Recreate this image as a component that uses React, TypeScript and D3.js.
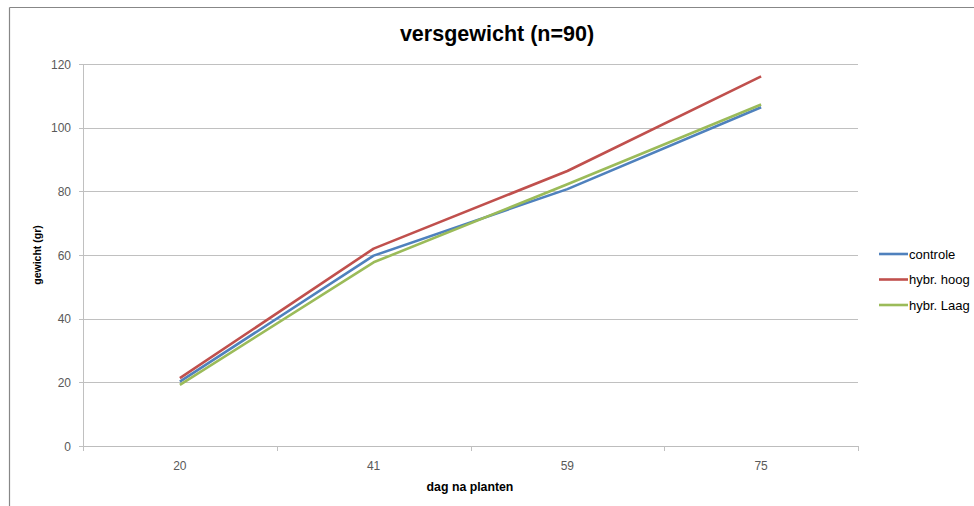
import React from "react";
import * as d3 from "d3";

const categories = ["20", "41", "59", "75"];
const seriesNames = ["controle", "hybr. hoog", "hybr. Laag"];
const controle = [20.2, 59.8, 80.7, 106.4];
const hybrHoog = [21.3, 62.0, 86.4, 116.1];
const hybrLaag = [19.2, 57.7, 82.2, 107.3];
const yTicks = [0, 20, 40, 60, 80, 100, 120];
const colors = ["#4F81BD", "#C0504D", "#9BBB59"];

const W = 974;
const H = 506;
const plot = { left: 83, right: 858, top: 64, bottom: 446 };
const FONT = "'Liberation Sans', Arial, sans-serif";

export default function App() {
  const x = d3
    .scaleBand<string>()
    .domain(categories)
    .range([plot.left, plot.right])
    .paddingInner(0)
    .paddingOuter(0);
  const y = d3.scaleLinear().domain([0, 120]).range([plot.bottom, plot.top]);
  const cx = (c: string) => (x(c) as number) + x.bandwidth() / 2;
  const line = d3
    .line<number>()
    .x((_, i) => cx(categories[i]))
    .y((d) => y(d));
  const data = [controle, hybrHoog, hybrLaag];
  const boundaries = [...categories.map((c) => x(c) as number), plot.right];

  return (
    <svg
      width={W}
      height={H}
      style={{ position: "absolute", left: 0, top: 0, background: "#fff" }}
      fontFamily={FONT}
    >
      <rect x={0} y={0} width={W} height={H} fill="#fff" />
      {/* frame */}
      <line x1={9.5} y1={7.5} x2={W} y2={7.5} stroke="#878787" strokeWidth={1.2} />
      <line x1={9.5} y1={7.5} x2={9.5} y2={H} stroke="#878787" strokeWidth={1.2} />

      {/* title */}
      <text
        x={497}
        y={41}
        textAnchor="middle"
        fontSize={21.5}
        fontWeight="bold"
        fill="#000"
      >
        versgewicht (n=90)
      </text>

      {/* gridlines */}
      {yTicks.map((t) => (
        <line
          key={"g" + t}
          x1={plot.left}
          x2={plot.right}
          y1={Math.round(y(t)) + 0.5}
          y2={Math.round(y(t)) + 0.5}
          stroke={t === 0 ? "#bdbdbd" : "#c0c0c0"}
          strokeWidth={1}
        />
      ))}
      {/* y axis */}
      <line x1={plot.left + 0.5} x2={plot.left + 0.5} y1={plot.top} y2={plot.bottom} stroke="#c0c0c0" />
      {yTicks.map((t) => (
        <g key={"yt" + t}>
          <line
            x1={plot.left - 4}
            x2={plot.left}
            y1={Math.round(y(t)) + 0.5}
            y2={Math.round(y(t)) + 0.5}
            stroke="#c0c0c0"
          />
          <text x={71} y={y(t) + 4.5} textAnchor="end" fontSize={12} fill="#595959">
            {t}
          </text>
        </g>
      ))}
      {/* x ticks */}
      {boundaries.map((b, i) => (
        <line
          key={"xt" + i}
          x1={Math.round(b) + 0.5}
          x2={Math.round(b) + 0.5}
          y1={plot.bottom}
          y2={plot.bottom + 5}
          stroke="#c0c0c0"
        />
      ))}
      {categories.map((c) => (
        <text key={"xl" + c} x={cx(c)} y={469.5} textAnchor="middle" fontSize={12} fill="#595959">
          {c}
        </text>
      ))}
      <text x={470} y={490.5} textAnchor="middle" fontSize={12.3} fontWeight="bold" fill="#000">
        dag na planten
      </text>
      <text
        transform={`translate(41, ${(plot.top + plot.bottom) / 2}) rotate(-90)`}
        textAnchor="middle"
        fontSize={10.5}
        fontWeight="bold"
        fill="#000"
      >
        gewicht (gr)
      </text>

      {/* series */}
      {data.map((d, i) => (
        <path
          key={"s" + i}
          d={line(d) as string}
          fill="none"
          stroke={colors[i]}
          strokeWidth={2.6}
          strokeLinejoin="round"
        />
      ))}

      {/* legend */}
      {seriesNames.map((n, i) => (
        <g key={"lg" + i} transform={`translate(879, ${254 + i * 25.5})`}>
          <line x1={0} x2={29} y1={0} y2={0} stroke={colors[i]} strokeWidth={2.6} />
          <text x={30} y={4.5} fontSize={13} fill="#000">
            {n}
          </text>
        </g>
      ))}
    </svg>
  );
}
